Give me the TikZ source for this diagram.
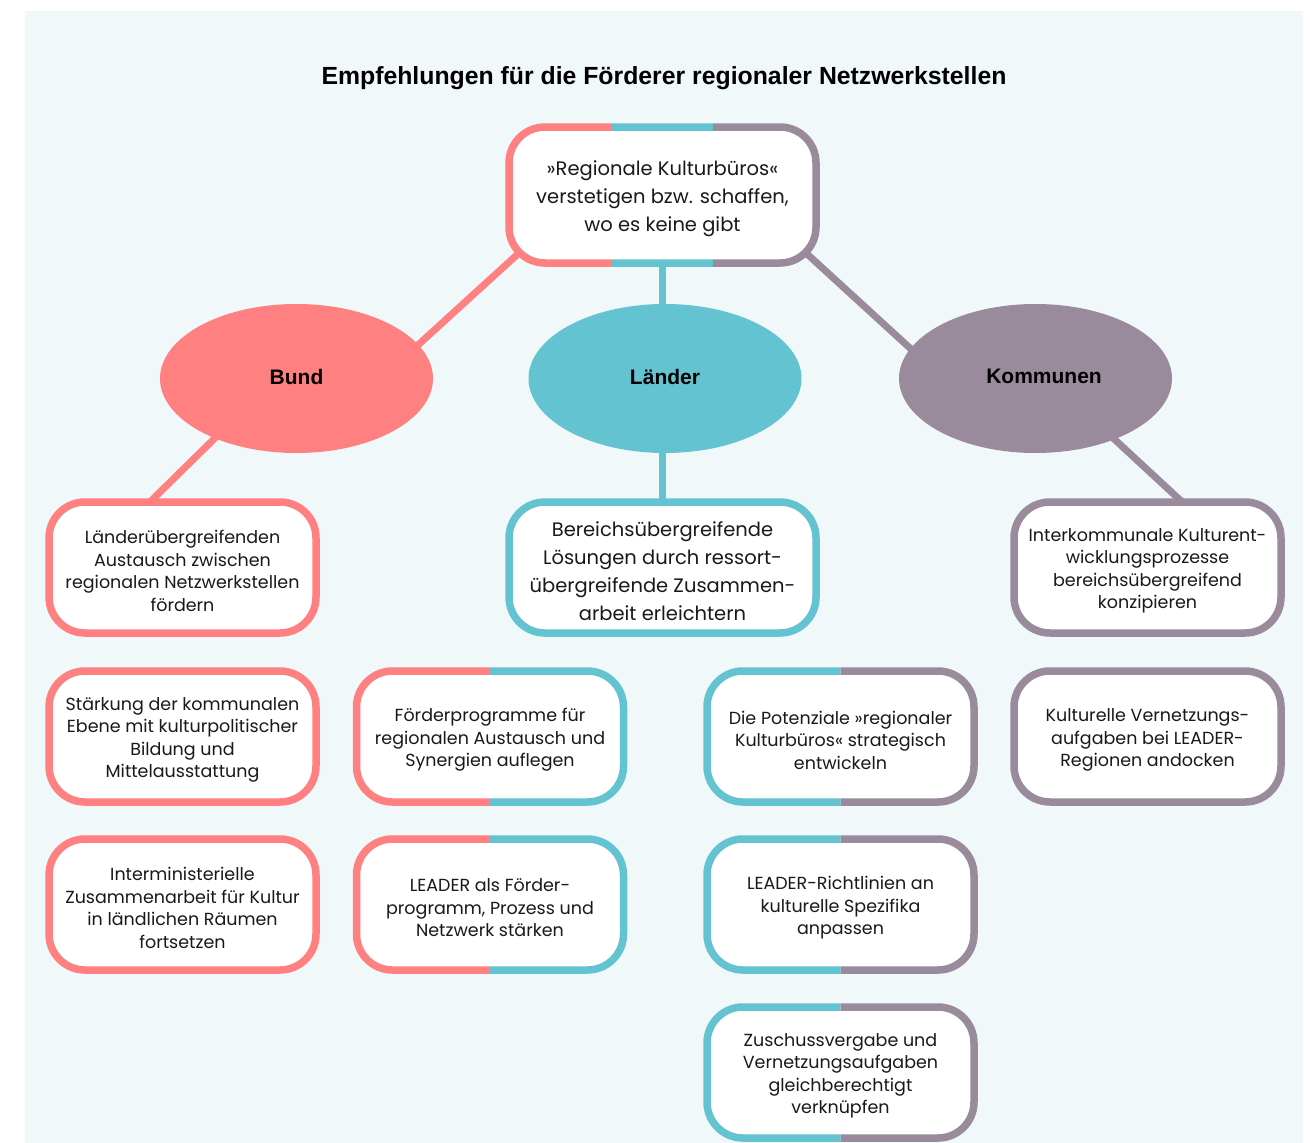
\documentclass[tikz,border=0pt]{standalone}
\usepackage{fontspec}
\setmainfont{Poppins}
\newfontfamily\headfont{Liberation Sans}
\usetikzlibrary{calc,shapes.geometric,backgrounds}
\definecolor{cred}{RGB}{255,128,128}
\definecolor{ccyan}{RGB}{100,195,208}
\definecolor{cpurp}{RGB}{154,139,156}
\definecolor{cbg}{RGB}{241,248,250}
\definecolor{ctext}{RGB}{25,25,25}
\tikzset{
 box/.style={rectangle, fill=white, rounded corners=36pt, inner sep=0pt, outer sep=0pt, minimum width=267pt, minimum height=131pt},
 bigbox/.style={box, minimum width=307pt},
 txt/.style={align=center, text=ctext, inner sep=0pt, font=\fontsize{17.5}{22.5}\selectfont},
 bigtxt/.style={txt, font=\fontsize{19.5}{28}\selectfont},
 ell/.style={ellipse, inner sep=0pt, outer sep=0pt, minimum width=273pt, minimum height=149pt, font=\headfont\bfseries\fontsize{21}{24}\selectfont, text=black},
 conn/.style={line width=7pt},
 brd/.style={line width=7.5pt, rounded corners=36pt},
}
% #1 name, #2 box style, #3 position, #4 text style, #5 text
\newcommand{\boxnode}[5]{%
 \node[#2] (#1) at #3 {};
 \node[#4] (#1-t) at ($(#1.center)+(0,-3.5)$) {#5};}
\newcommand{\oneborder}[2]{\draw[brd,#2] (#1.north west) rectangle (#1.south east);}
\newcommand{\twoborder}[3]{%
 \begin{scope}\clip ($(#1.north west)+(-10,10)$) rectangle ($(#1.south)+(0,-10)$);\draw[brd,#2] (#1.north west) rectangle (#1.south east);\end{scope}%
 \begin{scope}\clip ($(#1.north)+(0,10)$) rectangle ($(#1.south east)+(10,-10)$);\draw[brd,#3] (#1.north west) rectangle (#1.south east);\end{scope}}
\begin{document}
\begin{tikzpicture}[x=1pt,y=1pt]
\useasboundingbox (0,0) rectangle (1310,-1143);

\node[font=\headfont\bfseries\fontsize{24.8}{28}\selectfont, text=black] (title) at (664,-78) {Empfehlungen für die Förderer regionaler Netzwerkstellen};

% ellipses
\node[ell, fill=cred] (bund) at (296.5,-378.5) {\raisebox{4pt}{Bund}};
\node[ell, fill=ccyan] (laender) at (665,-378.5) {\raisebox{4pt}{Länder}};
\node[ell, fill=cpurp] (komm) at (1035.5,-378.5) {\hspace*{17pt}\raisebox{4pt}{Kommunen}};

% boxes
\boxnode{top}{bigbox,minimum height=136pt}{(662.5,-195)}{bigtxt}{»Regionale Kulturbüros«\\verstetigen bzw. schaffen,\\wo es keine gibt}
\boxnode{a1}{box}{(182.5,-567.5)}{txt}{Länderübergreifenden\\Austausch zwischen\\regionalen Netzwerkstellen\\fördern}
\boxnode{m1}{bigbox}{(662.5,-567.5)}{bigtxt}{Bereichsübergreifende\\Lösungen durch ressort-\\übergreifende Zusammen-\\arbeit erleichtern}
\boxnode{d1}{box}{(1147.5,-567.5)}{txt}{Interkommunale Kulturent-\\wicklungsprozesse\\bereichsübergreifend\\konzipieren}
\boxnode{a2}{box}{(182.5,-736.5)}{txt}{Stärkung der kommunalen\\Ebene mit kulturpolitischer\\Bildung und\\Mittelausstattung}
\boxnode{b2}{box}{(490,-736.5)}{txt}{Förderprogramme für\\regionalen Austausch und\\Synergien auflegen}
\boxnode{c2}{box}{(840.5,-736.5)}{txt}{Die Potenziale »regionaler\\Kulturbüros« strategisch\\entwickeln}
\boxnode{d2}{box}{(1147.5,-736.5)}{txt}{Kulturelle Vernetzungs-\\aufgaben bei LEADER-\\Regionen andocken}
\boxnode{a3}{box}{(182.5,-904.5)}{txt}{Interministerielle\\Zusammenarbeit für Kultur\\in ländlichen Räumen\\fortsetzen}
\boxnode{b3}{box}{(490,-904.5)}{txt}{LEADER als Förder-\\programm, Prozess und\\Netzwerk stärken}
\boxnode{c3}{box}{(840.5,-904.5)}{txt}{LEADER-Richtlinien an\\kulturelle Spezifika\\anpassen}
\boxnode{c4}{box}{(840.5,-1072.5)}{txt}{Zuschussvergabe und\\Vernetzungsaufgaben\\gleichberechtigt\\verknüpfen}

% background and connectors behind
\begin{pgfonlayer}{background}
\fill[white] (0,0) rectangle (1310,-1143);
\fill[cbg] (25,-11) rectangle (1303,-1143);
\draw[conn, cred] ($(top.south west)+(21.6,20.6)$) -- ($(bund.center)+(110.4,23.4)$);
\draw[conn, ccyan] (top.south) -- (top.south |- laender.north);
\draw[conn, cpurp] ($(top.south east)+(-21.6,20.6)$) -- ($(komm.center)+(-112.4,18.4)$);
\draw[conn, cred] ($(bund.center)+(-70.8,-49)$) -- ($(a1.north)+(-39.1,-6.4)$);
\draw[conn, ccyan] (m1.north |- laender.south) -- (m1.north);
\draw[conn, cpurp] ($(komm.center)+(66.5,-49.3)$) -- ($(d1.north)+(41.3,-6.1)$);
\end{pgfonlayer}

% borders
\begin{scope}\clip ($(top.north west)+(-10,10)$) rectangle ($(top.south west)+(102,-10)$);\draw[brd,cred] (top.north west) rectangle (top.south east);\end{scope}
\begin{scope}\clip ($(top.north west)+(102,10)$) rectangle ($(top.south west)+(204,-10)$);\draw[brd,ccyan] (top.north west) rectangle (top.south east);\end{scope}
\begin{scope}\clip ($(top.north west)+(204,10)$) rectangle ($(top.south east)+(10,-10)$);\draw[brd,cpurp] (top.north west) rectangle (top.south east);\end{scope}
\oneborder{a1}{cred}
\oneborder{m1}{ccyan}
\oneborder{d1}{cpurp}
\oneborder{a2}{cred}
\twoborder{b2}{cred}{ccyan}
\twoborder{c2}{ccyan}{cpurp}
\oneborder{d2}{cpurp}
\oneborder{a3}{cred}
\twoborder{b3}{cred}{ccyan}
\twoborder{c3}{ccyan}{cpurp}
\twoborder{c4}{ccyan}{cpurp}
\end{tikzpicture}
\end{document}
